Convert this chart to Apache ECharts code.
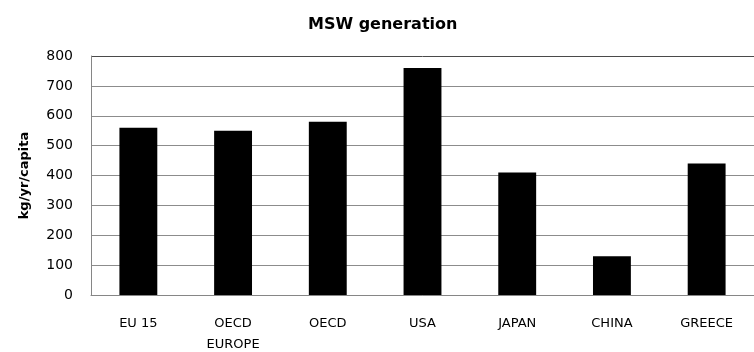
<!DOCTYPE html>
<html>
<head>
<meta charset="utf-8">
<script src="https://cdn.jsdelivr.net/npm/echarts@6/dist/echarts.min.js"></script>
<style>
  html, body { margin: 0; padding: 0; background: #fff; }
  #chart { width: 754px; height: 352px; }
</style>
</head>
<body>
<div id="chart"></div>
<script>
// categories and values
const categories = ["EU 15", "OECD\nEUROPE", "OECD", "USA", "JAPAN", "CHINA", "GREECE"];
const mswValues = [560, 550, 580, 760, 410, 130, 440];
const yTicks = [0, 100, 200, 300, 400, 500, 600, 700, 800];

const chart = echarts.init(document.getElementById("chart"));
const font = "'DejaVu Sans', sans-serif";

// grid lines are light grey, the top one (plot frame) darker
const gridColors = yTicks.map((v, i) => (i === yTicks.length - 1 ? "#4a4a4a" : "#8c8c8c"));

const option = {
  animation: false,
  title: {
    text: "MSW generation",
    left: 303,
    top: 12,
    textStyle: { fontFamily: font, fontWeight: "bold", fontSize: 16, color: "#000" }
  },
  grid: { left: 91, right: 0, top: 56, bottom: 57, outerBoundsMode: "none", containLabel: false },
  xAxis: {
    type: "category",
    data: categories,
    axisLine: { lineStyle: { color: "#868686", width: 1 } },
    axisTick: { show: false },
    axisLabel: { fontFamily: font, fontSize: 13, color: "#000", margin: 18, lineHeight: 21 }
  },
  yAxis: {
    type: "value",
    min: yTicks[0],
    max: yTicks[yTicks.length - 1],
    interval: 100,
    name: "kg/yr/capita",
    nameLocation: "middle",
    nameGap: 60,
    nameTextStyle: { fontFamily: font, fontWeight: "bold", fontSize: 13, color: "#000" },
    axisLine: { show: true, lineStyle: { color: "#868686" } },
    axisTick: { show: false },
    axisLabel: { fontFamily: font, fontSize: 14, color: "#000", margin: 18 },
    splitLine: { lineStyle: { color: gridColors, width: 1 } }
  },
  series: [{
    type: "bar",
    data: mswValues,
    barWidth: "40%",
    itemStyle: { color: "#000" }
  }]
};
chart.setOption(option);
</script>
</body>
</html>
